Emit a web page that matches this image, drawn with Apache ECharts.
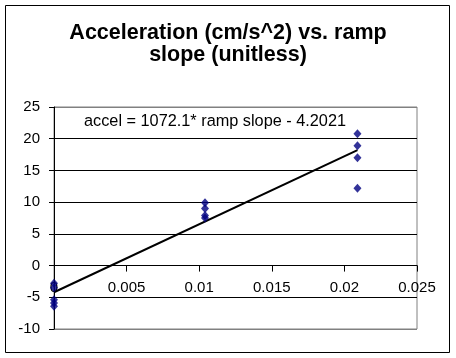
<!DOCTYPE html>
<html>
<head>
<meta charset="utf-8">
<script src="https://cdn.jsdelivr.net/npm/echarts@6/dist/echarts.min.js"></script>
<style>
html,body{margin:0;padding:0;background:#fff;}
#c{width:456px;height:358px;}
</style>
</head>
<body>
<div id="c"></div>
<script>
const titleLines = ["Acceleration (cm/s^2) vs. ramp", "slope (unitless)"];
const rampSlope = [0, 0, 0, 0, 0, 0.0104, 0.0104, 0.0104, 0.0104, 0.0209, 0.0209, 0.0209, 0.0209];
const accel = [-2.8, -3.5, -5.4, -5.9, -6.4, 9.9, 9.0, 7.9, 7.5, 20.8, 18.9, 17.0, 12.2];
const fitSlope = 1072.1;
const fitIntercept = -4.2021;
const equationText = "accel = 1072.1* ramp slope - 4.2021";
const xTicks = {min: 0, max: 0.025, interval: 0.005};
const yTicks = {min: -10, max: 25, interval: 5};

const points = rampSlope.map((x, i) => [x, accel[i]]);
const xLo = Math.min(...rampSlope), xHi = Math.max(...rampSlope);
const trend = [[xLo, fitSlope * xLo + fitIntercept], [xHi, fitSlope * xHi + fitIntercept]];

const gridBox = {left: 54, right: 39, top: 107, bottom: 29};
const gridH = 358 - gridBox.top - gridBox.bottom;
// move the x axis up to y = 0, as the reference draws it
const xAxisOffset = -gridH * (0 - yTicks.min) / (yTicks.max - yTicks.min);

const font = 'Arial, "Liberation Sans", sans-serif';
const chart = echarts.init(document.getElementById('c'), null, {renderer: 'canvas'});
const gridColors = ['#808080', '#000', '#000', '#000', '#000', '#000', '#000', '#808080'];
chart.setOption({
  backgroundColor: '#fff',
  animation: false,
  title: {
    text: titleLines.join('\n'),
    left: 'center',
    top: 17,
    textStyle: {fontFamily: font, fontSize: 21.5, fontWeight: 'bold', color: '#000', lineHeight: 22}
  },
  grid: Object.assign({show: true, borderColor: '#808080', borderWidth: 1}, gridBox),
  xAxis: {
    type: 'value', min: xTicks.min, max: xTicks.max, interval: xTicks.interval,
    offset: xAxisOffset,
    axisLine: {show: true, onZero: false, lineStyle: {color: '#000', width: 1}},
    axisTick: {show: true, inside: false, length: 6, lineStyle: {color: '#000'}},
    axisLabel: {fontFamily: font, fontSize: 15, color: '#000', margin: 15,
      formatter: v => String(+v.toFixed(3))},
    splitLine: {show: false}
  },
  yAxis: {
    type: 'value', min: yTicks.min, max: yTicks.max, interval: yTicks.interval,
    axisLine: {show: true, onZero: false, lineStyle: {color: '#000', width: 1}},
    axisTick: {show: true, inside: false, length: 5, lineStyle: {color: '#000'}},
    axisLabel: {fontFamily: font, fontSize: 15, color: '#000', margin: 14},
    splitLine: {show: true, lineStyle: {color: gridColors, width: 1}}
  },
  graphic: [
    {type: 'rect', shape: {x: 5.5, y: 5.5, width: 444, height: 347}, style: {fill: null, stroke: '#000', lineWidth: 1}, z: 100},
    {type: 'text', left: 84, top: 114, style: {text: equationText, font: '16.3px ' + font, fill: '#000'}, z: 100}
  ],
  series: [
    {type: 'line', data: trend, symbol: 'none', lineStyle: {color: '#000', width: 2}, z: 2},
    {type: 'scatter', data: points, symbol: 'diamond', symbolSize: [8, 9], itemStyle: {color: '#000080'}, z: 3}
  ]
});
</script>
</body>
</html>
